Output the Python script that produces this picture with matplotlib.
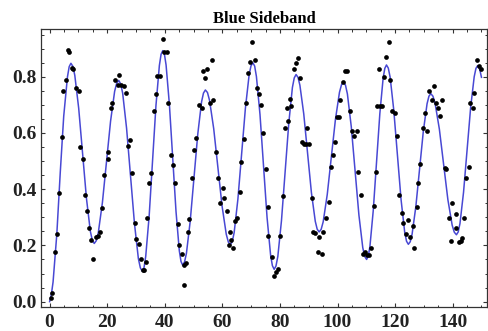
import numpy as np
import matplotlib.pyplot as plt
from matplotlib.ticker import MultipleLocator, FormatStrFormatter

# measured points
data_x = [0.45, 0.90, 1.74, 2.64, 3.13, 4.17, 4.62, 5.56, 6.36, 6.81, 7.75, 8.20, 9.14, 10.08,
          10.53, 11.47, 12.37, 12.86, 13.76, 14.35, 15.15, 16.09, 16.68, 17.58, 18.07, 18.97,
          20.15, 20.36, 21.20, 21.65, 22.69, 23.63, 24.08, 24.77, 25.82, 26.41, 27.31, 27.80,
          28.60, 29.64, 30.09, 30.92, 31.62, 32.31, 32.66, 33.36, 33.70, 34.61, 35.09, 36.14,
          36.93, 37.39, 38.22, 39.37, 39.82, 40.76, 41.21, 42.04, 42.95, 43.54, 44.48, 44.93,
          45.86, 46.56, 46.77, 47.46, 48.05, 48.51, 49.55, 50.14, 50.83, 51.77, 52.81, 53.16,
          53.96, 54.55, 55.70, 56.39, 56.84, 57.78, 58.37, 59.28, 60.11, 60.67, 61.50, 62.30,
          62.75, 63.00, 63.79, 64.39, 65.18, 66.12, 66.57, 67.62, 68.10, 69.01, 69.70, 70.40,
          71.33, 72.13, 72.72, 73.52, 74.22, 75.16, 75.75, 75.96, 77.35, 77.94, 78.63, 79.43,
          80.13, 80.96, 81.76, 82.45, 82.91, 83.39, 83.84, 84.78, 85.48, 86.17, 86.87, 87.67,
          88.36, 89.06, 89.51, 90.10, 91.04, 91.38, 92.18, 93.12, 93.68, 94.51, 95.07, 95.90,
          97.15, 97.64, 98.33, 99.24, 99.72, 100.52, 100.97, 101.81, 102.50, 103.30, 104.35,
          104.93, 105.84, 106.67, 107.23, 108.06, 108.96, 109.56, 110.15, 110.84, 111.64,
          112.58, 113.27, 113.83, 114.52, 114.77, 115.46, 116.05, 116.75, 117.79, 118.24,
          119.04, 120.08, 120.57, 121.37, 122.52, 122.86, 123.80, 124.39, 125.09, 126.13,
          126.58, 127.62, 127.97, 128.77, 129.71, 130.30, 131.20, 131.69, 132.73, 133.63,
          134.12, 134.92, 135.51, 136.31, 137.25, 137.80, 138.64, 139.54, 139.89, 141.07,
          141.28, 142.22, 142.81, 143.36, 143.85, 144.75, 145.59, 146.14, 147.08, 147.53,
          148.47, 149.27, 149.76]
data_y = [0.012, 0.032, 0.178, 0.24, 0.388, 0.587, 0.75, 0.788, 0.896, 0.887, 0.83, 0.827, 0.76, 0.75,
          0.55, 0.507, 0.38, 0.323, 0.261, 0.22, 0.151, 0.23, 0.235, 0.249, 0.332, 0.451,
          0.508, 0.532, 0.688, 0.705, 0.789, 0.769, 0.807, 0.771, 0.768, 0.741, 0.552, 0.575,
          0.459, 0.279, 0.222, 0.204, 0.151, 0.112, 0.112, 0.14, 0.299, 0.421, 0.459, 0.679,
          0.738, 0.804, 0.804, 0.935, 0.888, 0.888, 0.706, 0.522, 0.486, 0.421, 0.277, 0.202,
          0.169, 0.131, 0.059, 0.137, 0.247, 0.294, 0.439, 0.54, 0.581, 0.70, 0.688, 0.819,
          0.797, 0.827, 0.706, 0.86, 0.718, 0.532, 0.441, 0.35, 0.406, 0.37, 0.323, 0.202,
          0.249, 0.22, 0.19, 0.287, 0.299, 0.389, 0.498, 0.579, 0.706, 0.815, 0.851, 0.925,
          0.86, 0.759, 0.738, 0.70, 0.599, 0.472, 0.235, 0.335, 0.16, 0.093, 0.107, 0.115,
          0.234, 0.377, 0.619, 0.688, 0.641, 0.721, 0.697, 0.827, 0.848, 0.868, 0.795, 0.569,
          0.56, 0.56, 0.617, 0.56, 0.37, 0.249, 0.243, 0.178, 0.231, 0.169, 0.249, 0.299,
          0.354, 0.48, 0.522, 0.569, 0.658, 0.658, 0.718, 0.781, 0.819, 0.819, 0.679,
          0.607, 0.591, 0.607, 0.463, 0.38, 0.17, 0.176, 0.166, 0.166, 0.19,
          0.342, 0.463, 0.697, 0.827, 0.697, 0.697, 0.799, 0.87, 0.925, 0.789,
          0.679, 0.67, 0.59, 0.38, 0.315, 0.279, 0.24, 0.291, 0.231, 0.27,
          0.192, 0.335, 0.421, 0.489, 0.617, 0.67, 0.607, 0.75, 0.718, 0.768,
          0.706, 0.688, 0.662, 0.718, 0.477, 0.472, 0.299, 0.214, 0.35, 0.261,
          0.311, 0.211, 0.216, 0.226, 0.299, 0.441, 0.48, 0.706, 0.688, 0.741,
          0.86, 0.84, 0.827]

# fitted curve
fit_x = [0, 0.6, 1.2, 2.5, 3.7, 4.9, 6.2, 6.8,
         7.4, 8.08, 8.75, 10.1, 11.45, 12.8, 14.15, 14.83,
         15.5, 16.21, 16.92, 18.33, 19.75, 21.17, 22.58, 23.29,
         24.0, 24.68, 25.37, 26.73, 28.1, 29.47, 30.83, 31.52,
         32.2, 32.79, 33.38, 34.57, 35.75, 36.93, 38.12, 38.71,
         39.3, 39.88, 40.45, 41.6, 42.75, 43.9, 45.05, 45.63,
         46.2, 46.86, 47.52, 48.83, 50.15, 51.47, 52.78, 53.44,
         54.1, 54.83, 55.55, 57.0, 58.45, 59.9, 61.35, 62.08,
         62.8, 63.45, 64.1, 65.4, 66.7, 68.0, 69.3, 69.95,
         70.6, 71.22, 71.83, 73.07, 74.3, 75.53, 76.77, 77.38,
         78.0, 78.63, 79.27, 80.53, 81.8, 83.07, 84.33, 84.97,
         85.6, 86.27, 86.93, 88.27, 89.6, 90.93, 92.27, 92.93,
         93.6, 94.31, 95.02, 96.43, 97.85, 99.27, 100.68, 101.39,
         102.1, 102.77, 103.43, 104.77, 106.1, 107.43, 108.77, 109.43,
         110.1, 110.68, 111.25, 112.4, 113.55, 114.7, 115.85, 116.43,
         117.0, 117.63, 118.27, 119.53, 120.8, 122.07, 123.33, 123.97,
         124.6, 125.25, 125.9, 127.2, 128.5, 129.8, 131.1, 131.75,
         132.4, 133.14, 133.88, 135.37, 136.85, 138.33, 139.82, 140.56,
         141.3, 141.92, 142.53, 143.77, 145.0, 146.23, 147.47, 148.08,
         148.7, 149.4, 150.0]
fit_y = [0.0, 0.025, 0.07, 0.24, 0.46, 0.66, 0.80, 0.836,
         0.848, 0.837, 0.805, 0.688, 0.528, 0.367, 0.250, 0.218,
         0.207, 0.217, 0.246, 0.352, 0.497, 0.642, 0.748, 0.777,
         0.787, 0.775, 0.742, 0.617, 0.447, 0.278, 0.153, 0.120,
         0.108, 0.121, 0.161, 0.304, 0.501, 0.697, 0.840, 0.880,
         0.893, 0.880, 0.842, 0.702, 0.511, 0.321, 0.181, 0.143,
         0.130, 0.141, 0.172, 0.286, 0.442, 0.597, 0.711, 0.742,
         0.753, 0.744, 0.716, 0.615, 0.478, 0.340, 0.240, 0.212,
         0.203, 0.214, 0.246, 0.365, 0.527, 0.688, 0.807, 0.839,
         0.850, 0.838, 0.801, 0.666, 0.482, 0.299, 0.164, 0.128,
         0.115, 0.127, 0.161, 0.288, 0.462, 0.635, 0.762, 0.796,
         0.808, 0.798, 0.770, 0.668, 0.528, 0.388, 0.286, 0.258,
         0.248, 0.257, 0.284, 0.381, 0.515, 0.648, 0.745, 0.772,
         0.781, 0.770, 0.739, 0.623, 0.465, 0.308, 0.192, 0.161,
         0.150, 0.162, 0.196, 0.323, 0.496, 0.669, 0.796, 0.830,
         0.842, 0.831, 0.799, 0.682, 0.523, 0.363, 0.247, 0.215,
         0.204, 0.213, 0.240, 0.338, 0.472, 0.606, 0.704, 0.731,
         0.740, 0.731, 0.706, 0.614, 0.489, 0.363, 0.272, 0.247,
         0.238, 0.248, 0.278, 0.389, 0.539, 0.690, 0.800, 0.830,
         0.840, 0.826, 0.798]

x_ticks = [0, 20, 40, 60, 80, 100, 120, 140]
y_ticks = [0.0, 0.2, 0.4, 0.6, 0.8]

fig = plt.figure(figsize=(4.89, 3.31), dpi=100)
ax = fig.add_axes([0.0838, 0.0734, 0.912, 0.839])

ax.plot(fit_x, fit_y, color='#4848d4', lw=1.1, zorder=2)
ax.plot(data_x, data_y, 'o', color='black', ms=3.4, mec='none', zorder=3)

ax.set_xlim(-3.0, 151.9)
ax.set_ylim(-0.018, 0.970)
ax.set_xticks(x_ticks)
ax.set_yticks(y_ticks)
ax.xaxis.set_minor_locator(MultipleLocator(5))
ax.yaxis.set_minor_locator(MultipleLocator(0.05))
ax.yaxis.set_major_formatter(FormatStrFormatter('%.1f'))

for s in ax.spines.values():
    s.set_color('#333333')
    s.set_linewidth(0.9)

ax.tick_params(which='both', direction='in', top=True, right=True, color='#333333')
ax.tick_params(which='major', length=3.2, width=0.8)
ax.tick_params(which='minor', length=1.8, width=0.7)
ax.tick_params(axis='x', pad=5.5)
ax.tick_params(axis='y', pad=3)
for lab in ax.get_xticklabels() + ax.get_yticklabels():
    lab.set_fontfamily('Liberation Serif')
    lab.set_fontweight('bold')
    lab.set_fontsize(14)
    lab.set_color('#222222')

ax.set_title('Blue Sideband', fontfamily='Liberation Serif', fontweight='bold',
             fontsize=12, pad=4)

fig.savefig('out.png', dpi=100)
